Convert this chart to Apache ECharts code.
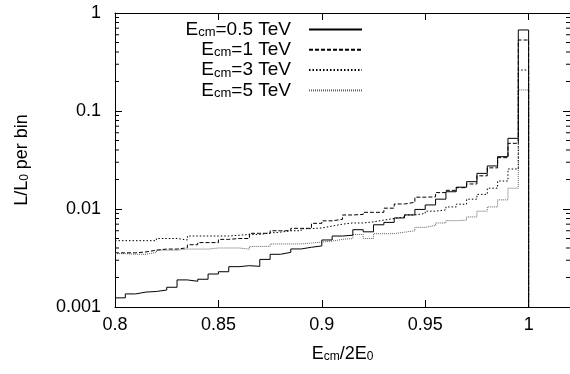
<!DOCTYPE html>
<html>
<head>
<meta charset="utf-8">
<script src="https://cdn.jsdelivr.net/npm/echarts@6/dist/echarts.min.js"></script>
<style>
  html, body { margin: 0; padding: 0; background: #fff; }
  #chart { width: 570px; height: 374px; }
</style>
</head>
<body>
<div id="chart"></div>
<script>
'use strict';

// bins of width 0.005 starting at 0.8, last bin ends at 1.0
var binStart = 0.8;
var binWidth = 0.005;

var names = ['E_cm=0.5 TeV', 'E_cm=1 TeV', 'E_cm=3 TeV', 'E_cm=5 TeV'];

var lumi05 = [0.00124, 0.00136, 0.00142, 0.00144, 0.00149, 0.00159, 0.00189, 0.00183, 0.00192, 0.00217,
              0.00229, 0.00258, 0.00264, 0.00260, 0.00306, 0.00345, 0.00361, 0.00391, 0.00407, 0.00420,
              0.00483, 0.00530, 0.00540, 0.00615, 0.00585, 0.00690, 0.00730, 0.00810, 0.00870, 0.00990,
              0.01100, 0.01260, 0.01500, 0.01670, 0.01900, 0.02310, 0.02750, 0.03420, 0.05260, 0.671];
var lumi1 = [0.00357, 0.00357, 0.00365, 0.00380, 0.00390, 0.00390, 0.00402, 0.00432, 0.00454, 0.00454,
             0.00490, 0.00500, 0.00500, 0.00565, 0.00565, 0.00600, 0.00600, 0.00635, 0.00635, 0.00714,
             0.00757, 0.00785, 0.00869, 0.00880, 0.00925, 0.00925, 0.01020, 0.01125, 0.01170, 0.01320,
             0.01330, 0.01470, 0.01550, 0.01650, 0.01800, 0.02180, 0.02630, 0.03340, 0.04680, 0.530];
var lumi3 = [0.00475, 0.00475, 0.00475, 0.00475, 0.00500, 0.00500, 0.00483, 0.00530, 0.00530, 0.00530,
             0.00530, 0.00540, 0.00550, 0.00550, 0.00570, 0.00580, 0.00600, 0.00600, 0.00630, 0.00640,
             0.00670, 0.00700, 0.00720, 0.00720, 0.00740, 0.00770, 0.00800, 0.00830, 0.00870, 0.00900,
             0.00950, 0.00980, 0.01050, 0.01120, 0.01260, 0.01410, 0.01630, 0.01930, 0.02560, 0.262];
var lumi5 = [0.00350, 0.00345, 0.00345, 0.00360, 0.00380, 0.00380, 0.00390, 0.00390, 0.00390, 0.00400,
             0.00400, 0.00400, 0.00390, 0.00415, 0.00415, 0.00440, 0.00440, 0.00440, 0.00450, 0.00460,
             0.00470, 0.00490, 0.00500, 0.00550, 0.00500, 0.00560, 0.00560, 0.00580, 0.00600, 0.00650,
             0.00680, 0.00720, 0.00760, 0.00770, 0.00830, 0.00950, 0.01050, 0.01240, 0.01630, 0.164];

var yMinorTicks = [0.002, 0.003, 0.004, 0.005, 0.006, 0.007, 0.008, 0.009,
                   0.02, 0.03, 0.04, 0.05, 0.06, 0.07, 0.08, 0.09,
                   0.2, 0.3, 0.4, 0.5, 0.6, 0.7, 0.8, 0.9];

var xMin = 0.8, xMax = 1.02;
var fontFamily = '"Liberation Sans", Arial, sans-serif';

// histogram as step line: left edges + closing edge, then drop to the axis
function histPoints(vals) {
    var pts = [];
    for (var i = 0; i < vals.length; i++) {
        pts.push([+(binStart + i * binWidth).toFixed(4), vals[i]]);
    }
    var end = +(binStart + vals.length * binWidth).toFixed(4);
    pts.push([end, vals[vals.length - 1]]);
    pts.push([end, 0.0001]);
    return pts;
}

var rich = {
    n: { fontSize: 18, lineHeight: 18, verticalAlign: 'bottom', fontFamily: fontFamily, color: '#000' },
    s: { fontSize: 12, lineHeight: 6, verticalAlign: 'bottom', fontFamily: fontFamily, color: '#000' }
};
var legendRich = {
    n: { fontSize: 19, lineHeight: 19, verticalAlign: 'bottom', fontFamily: fontFamily, color: '#000' },
    s: { fontSize: 13, lineHeight: 6, verticalAlign: 'bottom', fontFamily: fontFamily, color: '#000' }
};

var chart = echarts.init(document.getElementById('chart'), null, { renderer: 'canvas' });

var lineStyles = [
    { color: '#000', width: 1, type: 'solid' },
    { color: '#000', width: 1, type: [4, 2] },
    { color: '#000', width: 1, type: [1.5, 2] },
    { color: '#606060', width: 1, type: [1, 1] }
];
var dataSets = [lumi05, lumi1, lumi3, lumi5];

var series = [];
for (var k = 0; k < dataSets.length; k++) {
    series.push({
        name: names[k],
        type: 'line',
        step: 'end',
        data: histPoints(dataSets[k]),
        showSymbol: false,
        symbol: 'none',
        lineStyle: lineStyles[k],
        itemStyle: { color: lineStyles[k].color },
        clip: true,
        z: 10 - k
    });
}

// minor log ticks on left and right frame
series.push({
    type: 'custom',
    silent: true,
    data: yMinorTicks.map(function (v) { return [xMin, v]; }),
    renderItem: function (params, api) {
        var v = api.value(1);
        var p = api.coord([xMin, v]);
        var q = api.coord([xMax, v]);
        return {
            type: 'group',
            children: [
                { type: 'line', shape: { x1: p[0], y1: p[1], x2: p[0] + 4, y2: p[1] }, style: { stroke: '#000', lineWidth: 1 } },
                { type: 'line', shape: { x1: q[0] - 4, y1: q[1], x2: q[0], y2: q[1] }, style: { stroke: '#000', lineWidth: 1 } }
            ]
        };
    },
    z: 20
});

var option = {
    animation: false,
    backgroundColor: '#fff',
    grid: { left: 115, right: -1.5, top: 13, bottom: 67 },
    legend: {
        data: names,
        orient: 'vertical',
        right: 202,
        top: 15,
        align: 'right',
        itemWidth: 53,
        itemHeight: 10,
        itemGap: 1.3,
        selectedMode: false,
        itemStyle: { opacity: 0 },
        formatter: function (name) {
            return '{n|E}{s|cm}{n|' + name.replace('E_cm', '') + '}';
        },
        textStyle: { rich: legendRich, padding: [0, 13, 0, 0] }
    },
    xAxis: [
        {
            type: 'value',
            min: xMin,
            max: xMax,
            interval: 0.05,
            name: '{n|E}{s|cm}{n|/2E}{s|0}',
            nameLocation: 'middle',
            nameGap: 38,
            nameTextStyle: { rich: rich },
            axisLine: { lineStyle: { color: '#000', width: 1 } },
            axisTick: { inside: true, length: 7, lineStyle: { color: '#000' } },
            axisLabel: {
                color: '#000', fontSize: 18, fontFamily: fontFamily, margin: 9,
                showMaxLabel: false,
                formatter: function (v) { return String(+v.toFixed(2)); }
            },
            splitLine: { show: false }
        },
        {
            type: 'value',
            position: 'top',
            min: xMin,
            max: xMax,
            interval: 0.05,
            axisLine: { lineStyle: { color: '#000', width: 1 } },
            axisTick: { inside: true, length: 7, lineStyle: { color: '#000' } },
            axisLabel: { show: false },
            splitLine: { show: false }
        }
    ],
    yAxis: [
        {
            type: 'log',
            logBase: 10,
            min: 0.001,
            max: 1,
            name: '{n|L/L}{s|0}{n| per bin}',
            nameLocation: 'middle',
            nameRotate: 90,
            nameGap: 84,
            nameTextStyle: { rich: rich },
            axisLine: { lineStyle: { color: '#000', width: 1 } },
            axisTick: { inside: true, length: 7, lineStyle: { color: '#000' } },
            axisLabel: { color: '#000', fontSize: 18, fontFamily: fontFamily, margin: 14 },
            splitLine: { show: false },
            minorTick: { show: false }
        },
        {
            type: 'log',
            logBase: 10,
            position: 'right',
            min: 0.001,
            max: 1,
            axisLine: { lineStyle: { color: '#000', width: 1 } },
            axisTick: { inside: true, length: 7, lineStyle: { color: '#000' } },
            axisLabel: { show: false },
            splitLine: { show: false }
        }
    ],
    series: series
};

chart.setOption(option);
</script>
</body>
</html>
